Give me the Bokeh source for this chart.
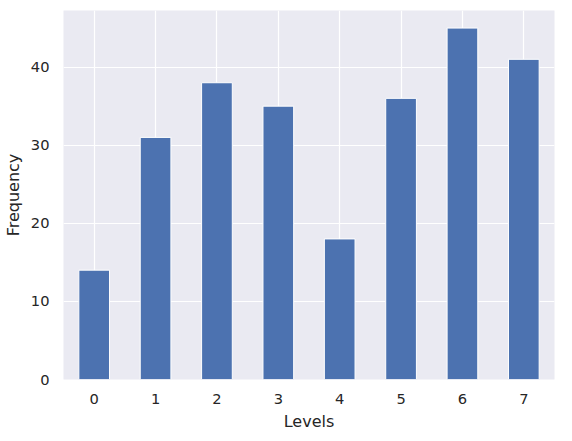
from bokeh.plotting import figure
from bokeh.models import Range1d, FixedTicker
from bokeh.embed import file_html
from bokeh.resources import INLINE

levels = [0, 1, 2, 3, 4, 5, 6, 7]
frequency = [14, 31, 38, 35, 18, 36, 45, 41]

p = figure(width=556, height=433, output_backend="svg", toolbar_location=None,
           x_range=Range1d(-0.5, 7.5), y_range=Range1d(0, 47.25),
           min_border_left=59, min_border_right=2, min_border_top=10, min_border_bottom=53)
p.background_fill_color = "#EAEAF2"
p.border_fill_color = "white"
p.outline_line_color = None

p.vbar(x=levels, top=frequency, width=0.5, fill_color="#4C72B0", line_color="white", line_width=1)

p.xaxis.ticker = FixedTicker(ticks=levels)
p.yaxis.ticker = FixedTicker(ticks=[0, 10, 20, 30, 40])
for ax in (p.xaxis[0], p.yaxis[0]):
    ax.axis_line_color = None
    ax.major_tick_line_color = None
    ax.minor_tick_line_color = None
    ax.major_label_text_font = "DejaVu Sans"
    ax.major_label_text_font_size = "11pt"
    ax.major_label_text_color = "#262626"
    ax.axis_label_text_font = "DejaVu Sans"
    ax.axis_label_text_font_size = "12pt"
    ax.axis_label_text_font_style = "normal"
    ax.axis_label_text_color = "#262626"
p.xaxis.axis_label = "Levels"
p.yaxis.axis_label = "Frequency"
p.xaxis.major_label_standoff = 8
p.yaxis.major_label_standoff = 8

p.grid.grid_line_color = "white"
p.grid.grid_line_width = 1.2
p.grid.level = "underlay"

open("out.html", "w").write(file_html(p, INLINE))
